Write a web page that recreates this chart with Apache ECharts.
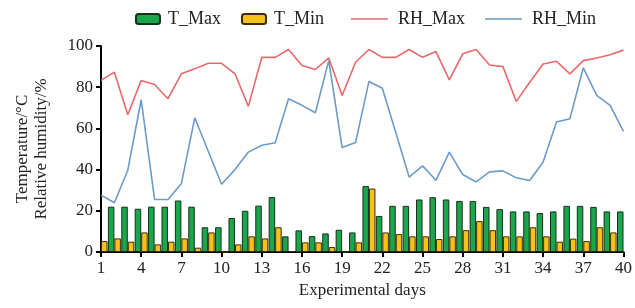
<!DOCTYPE html>
<html><head><meta charset="utf-8">
<script src="https://cdn.jsdelivr.net/npm/echarts@6/dist/echarts.min.js"></script>
<style>html,body{margin:0;padding:0;background:#fff}#c{width:635px;height:308px}</style>
</head><body><div id="c"></div>
<script>
const days = Array.from({length: 40}, (_, i) => String(i + 1));
const tMax = [null,22,22,21,22,22,25,22,12,12,16.5,20,22.5,26.7,7.6,10.5,7.7,9,10.8,9.5,32,17.5,22.4,22.4,25.5,26.6,25.5,24.8,24.8,21.9,20.8,19.7,19.7,18.9,19.7,22.4,22.4,21.9,19.7,19.7];
const tMin = [5.3,6.6,5,9.5,3.7,5,6.6,2.1,9.5,0,3.7,7.6,6.6,12,0.4,4.7,4.7,2.4,0,4.7,30.8,9.5,8.7,7.6,7.6,6.3,7.6,10.6,15,10.6,7.6,7.6,12,7.6,5,6.5,5.3,12,9.5,null];
const rhMax = [83.3,87.3,66.6,83.3,81.3,74.4,86.5,88.9,91.6,91.6,86.5,70.7,94.5,94.5,98.3,90.5,88.6,94.2,76,92.1,98.3,94.5,94.5,98.3,94.5,97.3,83.6,96.2,98.3,90.8,90,73.1,82.4,91.3,92.6,86.5,92.9,94.2,95.8,98];
const rhMin = [27.6,23.9,39.7,73.9,25.5,25.5,33.2,65.2,49,32.9,40,48.5,51.8,53,74.4,71.2,67.6,92.9,50.7,53.1,82.8,79.5,58,36.4,41.8,34.8,48.5,37.6,34,38.9,39.4,36,34.7,43.7,63.1,64.7,89.4,76,71.2,58.6];

const font = 'Liberation Serif';
const chart = echarts.init(document.getElementById('c'), null, {renderer: 'canvas'});
chart.setOption({
  animation: false,
  textStyle: {fontFamily: font},
  legend: [
    {left: 130, top: 5, itemWidth: 24, itemHeight: 10, itemGap: 20,
     data: ['T_Max', 'T_Min'],
     textStyle: {fontFamily: font, fontSize: 18, color: '#222', padding: [0,0,0,3]}},
    {left: 346, top: 5, itemWidth: 37, itemHeight: 1.6, itemGap: 20,
     data: [{name: 'RH_Max', icon: 'rect'}, {name: 'RH_Min', icon: 'rect'}],
     textStyle: {fontFamily: font, fontSize: 18, color: '#222', padding: [0,0,0,5]}}
  ],
  grid: {left: 101, right: 10, top: 46, bottom: 56, containLabel: false},
  xAxis: {
    type: 'category', data: days, boundaryGap: false,
    name: 'Experimental days', nameLocation: 'middle', nameGap: 30,
    nameTextStyle: {fontFamily: font, fontSize: 17, color: '#222'},
    axisLine: {lineStyle: {color: '#000', width: 2}},
    axisTick: {interval: 2, length: 5, lineStyle: {color: '#000', width: 2}},
    axisLabel: {interval: 2, fontFamily: font, fontSize: 17, color: '#222', margin: 8},
    splitLine: {show: false}
  },
  yAxis: {
    type: 'value', min: 0, max: 100, interval: 20,
    name: 'Temperature/°C\nRelative humidity/%', nameLocation: 'middle', nameGap: 50,
    nameRotate: 90,
    nameTextStyle: {fontFamily: font, fontSize: 17, color: '#222', lineHeight: 19},
    axisLine: {show: true, lineStyle: {color: '#000', width: 2}},
    axisTick: {show: true, length: 5, lineStyle: {color: '#000', width: 2}},
    axisLabel: {fontFamily: font, fontSize: 17, color: '#222', margin: 8},
    splitLine: {show: false}
  },
  series: [
    {name: 'T_Max', type: 'bar', data: tMax, barWidth: 6.5, barGap: '0%', clip: true,
     itemStyle: {color: '#1aa64b', borderColor: '#1a2e1c', borderWidth: 1}},
    {name: 'T_Min', type: 'bar', data: tMin, barWidth: 6.5, barGap: '0%', clip: true,
     itemStyle: {color: '#f6c21a', borderColor: '#3a2e0c', borderWidth: 1}},
    {name: 'RH_Max', type: 'line', data: rhMax, symbol: 'none',
     lineStyle: {color: '#e8696b', width: 1.6}, itemStyle: {color: '#e8696b'}},
    {name: 'RH_Min', type: 'line', data: rhMin, symbol: 'none',
     lineStyle: {color: '#6b9bc8', width: 1.6}, itemStyle: {color: '#6b9bc8'}}
  ]
});
</script></body></html>
